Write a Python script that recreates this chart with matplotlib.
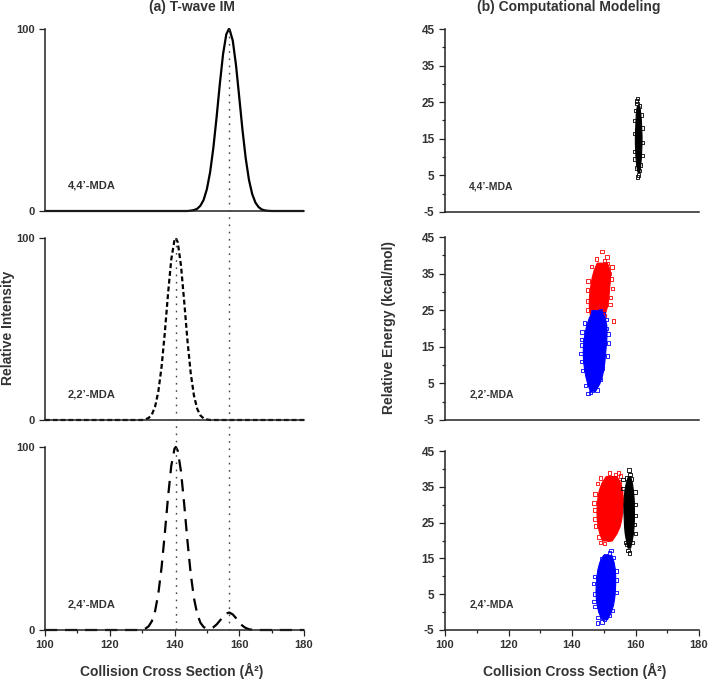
import numpy as np
import matplotlib
matplotlib.use("Agg")
import matplotlib.pyplot as plt
from matplotlib.lines import Line2D

plt.rcParams["font.family"] = ["Liberation Sans", "DejaVu Sans"]
plt.rcParams["font.weight"] = "bold"
plt.rcParams["axes.unicode_minus"] = False

TEXT_COLOR = "#333333"
AX_COLOR = "#222222"

# (a) T-wave IM arrival distributions
ccs_44 = [100, 144, 145, 146, 147, 148, 149, 150, 151, 152, 153, 154, 155, 156, 156.8,
          157, 158, 159, 160, 161, 162, 163, 164, 165, 166, 167, 168, 169, 170, 180]
int_44 = [0, 0, 0.2, 0.5, 1.2, 2.9, 6.1, 12.0, 21.3, 34.7, 51.5, 69.8, 86.2, 97.1, 100,
          99.8, 93.6, 80.1, 62.5, 44.5, 28.9, 17.1, 9.3, 4.6, 2.1, 0.8, 0.3, 0.1, 0, 0]

ccs_22 = [100, 130, 131, 132, 133, 134, 135, 136, 137, 138, 139, 140, 140.4,
          141, 142, 143, 144, 145, 146, 147, 148, 149, 150, 151, 180]
int_22 = [0, 0, 0.4, 1.1, 3.0, 7.3, 15.6, 29.1, 47.8, 69.3, 88.2, 99.0, 100,
          97.7, 84.9, 65.0, 43.7, 25.9, 13.5, 6.2, 2.5, 0.9, 0.3, 0, 0]

ccs_24 = [100, 129, 130, 131, 132, 133, 134, 135, 136, 137, 138, 139, 140, 140.4,
          141, 142, 143, 144, 145, 146, 147, 148, 149, 150, 151, 152, 153, 154, 155, 156, 156.8,
          157, 158, 159, 160, 161, 162, 163, 164, 165, 180]
int_24 = [0, 0, 0.25, 0.74, 2.0, 4.8, 10.3, 19.8, 34.1, 52.6, 72.6, 89.7, 99.1, 100,
          98.0, 86.7, 68.7, 48.7, 30.9, 17.5, 8.9, 4.0, 1.6, 0.8, 0.8, 1.5, 3.0, 5.1, 7.3, 9.0, 9.5,
          9.5, 8.5, 6.5, 4.2, 2.3, 1.1, 0.4, 0.15, 0, 0]

peak_ccs = [156.8, 140.4]  # dotted guide lines
isomers = ["4,4\u2019-MDA", "2,2\u2019-MDA", "2,4\u2019-MDA"]

# (b) modelling clouds: dense core outlines (energy, left edge, right edge) + stray points
top_black_E = [6, 8, 10, 12, 14, 16, 18, 20, 22, 24]
top_black_L = [160.6, 160.2, 160.0, 159.9, 159.8, 159.8, 159.9, 160.0, 160.1, 160.4]
top_black_R = [161.2, 161.5, 161.7, 161.8, 161.9, 161.9, 161.8, 161.7, 161.5, 161.2]
top_black_px = [160.3, 160.7, 160.5, 161.2, 160.9, 160.7, 161.3, 160.4, 162.1, 159.6, 162.0, 159.7,
                159.8, 162.0, 159.8, 161.9, 160.0, 161.6]
top_black_py = [25.3, 26.0, 24.6, 24.0, 5.1, 4.6, 6.3, 7.0, 14.0, 16.5, 18.0, 11.5,
                9.5, 10.5, 20.0, 21.5, 22.8, 7.8]

mid_red_E = [22, 24, 26, 28, 30, 32, 34, 36, 38]
mid_red_L = [146.0, 145.6, 145.3, 145.3, 145.5, 145.8, 146.2, 146.8, 147.8]
mid_red_R = [148.5, 150.3, 151.0, 151.4, 151.6, 151.8, 152.0, 151.9, 151.0]
mid_red_px = [149.5, 151.0, 150.3, 152.6, 152.4, 152.8, 144.8, 145.1, 144.9, 152.0, 153.1, 146.5,
              151.2, 147.8, 146.2, 145.0, 152.2, 151.8, 147.5, 150.2]
mid_red_py = [41.0, 39.5, 38.6, 36.8, 33.5, 31.0, 30.5, 27.5, 25.0, 26.5, 22.0, 23.2,
              37.8, 39.0, 37.0, 33.0, 28.5, 35.0, 22.0, 23.5]

mid_blue_E = [3, 5, 7, 9, 11, 13, 15, 17, 19, 21, 23, 25]
mid_blue_L = [145.6, 144.8, 144.2, 143.8, 143.5, 143.4, 143.4, 143.6, 144.0, 144.5, 145.3, 146.5]
mid_blue_R = [147.3, 148.6, 149.4, 149.9, 150.2, 150.4, 150.6, 150.8, 150.9, 150.8, 150.3, 149.0]
mid_blue_px = [143.0, 142.8, 143.2, 151.3, 151.5, 150.9, 145.0, 145.8, 146.3, 148.9, 149.5, 142.9,
               149.0, 144.0, 143.3, 142.9, 151.2, 150.7, 144.2, 147.9, 146.6, 150.0]
mid_blue_py = [15.5, 13.2, 19.0, 18.5, 16.0, 22.5, 2.2, 2.5, 3.0, 6.0, 9.0, 11.0,
               24.8, 21.5, 8.5, 17.0, 12.5, 20.0, 4.5, 3.2, 24.5, 24.0]

bot_red_E = [20, 22, 24, 26, 28, 30, 32, 34, 36, 38]
bot_red_L = [149.5, 148.6, 148.1, 147.8, 147.7, 147.8, 148.0, 148.4, 149.2, 150.6]
bot_red_R = [152.5, 154.0, 155.0, 155.5, 155.8, 156.0, 156.0, 155.8, 155.3, 154.0]
bot_red_px = [154.6, 155.3, 153.7, 147.2, 147.3, 147.4, 148.5, 149.0, 150.2, 151.5, 153.0, 146.9,
              147.2, 148.0, 149.0, 151.8, 150.5, 155.0]
bot_red_py = [38.8, 38.0, 38.3, 33.0, 28.5, 24.0, 21.0, 19.5, 19.2, 20.2, 36.8, 30.5,
              26.0, 36.0, 37.5, 38.9, 20.5, 36.5]

bot_black_E = [18, 20, 22, 24, 26, 28, 30, 32, 34, 36, 38]
bot_black_L = [157.5, 157.0, 156.6, 156.4, 156.3, 156.2, 156.2, 156.3, 156.5, 156.9, 157.6]
bot_black_R = [158.3, 158.8, 159.2, 159.4, 159.5, 159.5, 159.5, 159.4, 159.2, 158.9, 158.3]
bot_black_px = [157.9, 158.3, 157.7, 158.2, 157.2, 159.8, 159.9, 160.0, 156.0, 159.0,
                156.0, 159.8, 157.3, 159.7, 157.0, 158.8]
bot_black_py = [39.7, 38.5, 17.2, 16.5, 18.8, 33.5, 27.0, 22.0, 37.0, 19.5,
                34.5, 30.0, 37.5, 24.5, 19.5, 37.2]

bot_blue_E = [-2, 0, 2, 4, 6, 8, 10, 12, 14, 16]
bot_blue_L = [149.3, 148.3, 147.8, 147.5, 147.4, 147.5, 147.7, 148.0, 148.6, 149.8]
bot_blue_R = [151.0, 152.2, 152.9, 153.3, 153.5, 153.6, 153.6, 153.5, 153.1, 152.4]
bot_blue_px = [152.3, 151.8, 153.0, 148.1, 149.5, 150.3, 147.0, 146.8, 154.0, 153.9, 147.2, 152.7,
               147.0, 146.9, 153.8, 148.2, 151.9, 150.6, 149.2]
bot_blue_py = [17.2, 16.5, 15.2, -3.0, -2.8, -2.0, 5.0, 8.0, 9.0, 5.5, 1.5, 0.5,
               10.0, 3.0, 11.5, -1.5, -1.0, 15.8, 15.0]

RED = "#ff0000"
BLUE = "#0000ff"
BLACK = "#000000"

clouds = [
    [(top_black_E, top_black_L, top_black_R, top_black_px, top_black_py, BLACK)],
    [(mid_red_E, mid_red_L, mid_red_R, mid_red_px, mid_red_py, RED),
     (mid_blue_E, mid_blue_L, mid_blue_R, mid_blue_px, mid_blue_py, BLUE)],
    [(bot_red_E, bot_red_L, bot_red_R, bot_red_px, bot_red_py, RED),
     (bot_black_E, bot_black_L, bot_black_R, bot_black_px, bot_black_py, BLACK),
     (bot_blue_E, bot_blue_L, bot_blue_R, bot_blue_px, bot_blue_py, BLUE)],
]
curves = [(ccs_44, int_44, "-"), (ccs_22, int_22, (0, (2.2, 1.3))), (ccs_24, int_24, (0, (5.5, 3.5)))]

W, H = 709, 681
fig = plt.figure(figsize=(W / 100, H / 100), dpi=100)

# panel boxes in pixels: (left, top, right, bottom)
left_boxes = [(45, 29, 304, 211), (45, 238, 304, 420), (45, 447, 304, 630)]
right_boxes = [(445, 29, 699, 212), (445, 237, 699, 420), (445, 451, 699, 630)]


def add_ax(box):
    l, t, r, b = box
    return fig.add_axes([l / W, 1 - b / H, (r - l) / W, (b - t) / H])


def style_ax(ax):
    for s in ["top", "right"]:
        ax.spines[s].set_visible(False)
    for s in ["left", "bottom"]:
        ax.spines[s].set_color(AX_COLOR)
        ax.spines[s].set_linewidth(1.1)
    ax.tick_params(which="both", direction="out", colors=AX_COLOR, labelcolor=TEXT_COLOR,
                   labelsize=8, width=0.9)
    ax.tick_params(which="major", length=4)
    ax.tick_params(which="minor", length=2.5)
    ax.set_xlim(100, 180)
    ax.set_xticks([100, 120, 140, 160, 180])
    ax.set_xticks([110, 130, 150, 170], minor=True)
    ax.patch.set_alpha(0)


left_axes = []
for i, box in enumerate(left_boxes):
    ax = add_ax(box)
    style_ax(ax)
    x, y, ls = curves[i]
    ax.plot(x, y, color="black", lw=1.6, ls=ls, clip_on=False, solid_capstyle="butt")
    ax.set_ylim(0, 100)
    ax.set_yticks([0, 100])
    ax.text(107.1, 14, isomers[i], fontsize=8, color=TEXT_COLOR, va="center", ha="left")
    if i < 2:
        ax.tick_params(axis="x", which="both", bottom=False, labelbottom=False)
    left_axes.append(ax)

for i, box in enumerate(right_boxes):
    ax = add_ax(box)
    style_ax(ax)
    ax.set_ylim(-5, 45)
    ax.set_yticks([-5, 5, 15, 25, 35, 45])
    ax.set_yticks([0, 10, 20, 30, 40], minor=True)
    ax.tick_params(axis="y", labelsize=8.5)
    for E, L, R, px, py, c in clouds[i]:
        ax.fill_betweenx(E, L, R, color=c, lw=0.8, edgecolor=c)
        ax.scatter(px, py, marker="s", s=6, facecolors="none", edgecolors=c, linewidths=0.6)
    ax.text(107.6, 2, isomers[i], fontsize=7.5, color=TEXT_COLOR, va="center", ha="left")
    if i < 2:
        ax.tick_params(axis="x", which="both", bottom=False, labelbottom=False)

# dotted guide lines running through the left column
top_ax, mid_ax, bot_ax = left_axes
for x0, start_ax in zip(peak_ccs, [top_ax, mid_ax]):
    p_top = fig.transFigure.inverted().transform(start_ax.transData.transform((x0, 100)))
    p_bot = fig.transFigure.inverted().transform(bot_ax.transData.transform((x0, 0)))
    fig.add_artist(Line2D([p_top[0], p_bot[0]], [p_top[1], p_bot[1]], transform=fig.transFigure,
                          color="#444444", lw=1.0, ls=(0, (1.2, 4))))

fig.text(192 / W, 1 - 7 / H, "(a) T-wave IM", ha="center", va="center", fontsize=10, color=TEXT_COLOR)
fig.text(569 / W, 1 - 7 / H, "(b) Computational Modeling", ha="center", va="center", fontsize=10,
         color=TEXT_COLOR)
fig.text(8 / W, 1 - 328 / H, "Relative Intensity", rotation=90, ha="center", va="center",
         fontsize=10, color=TEXT_COLOR)
fig.text(389 / W, 1 - 328 / H, "Relative Energy (kcal/mol)", rotation=90, ha="center", va="center",
         fontsize=10, color=TEXT_COLOR)
fig.text(172 / W, 1 - 671 / H, "Collision Cross Section (\u00c5\u00b2)", ha="center", va="center",
         fontsize=10, color=TEXT_COLOR)
fig.text(575 / W, 1 - 671 / H, "Collision Cross Section (\u00c5\u00b2)", ha="center", va="center",
         fontsize=10, color=TEXT_COLOR)

fig.savefig("out.png", dpi=100)
